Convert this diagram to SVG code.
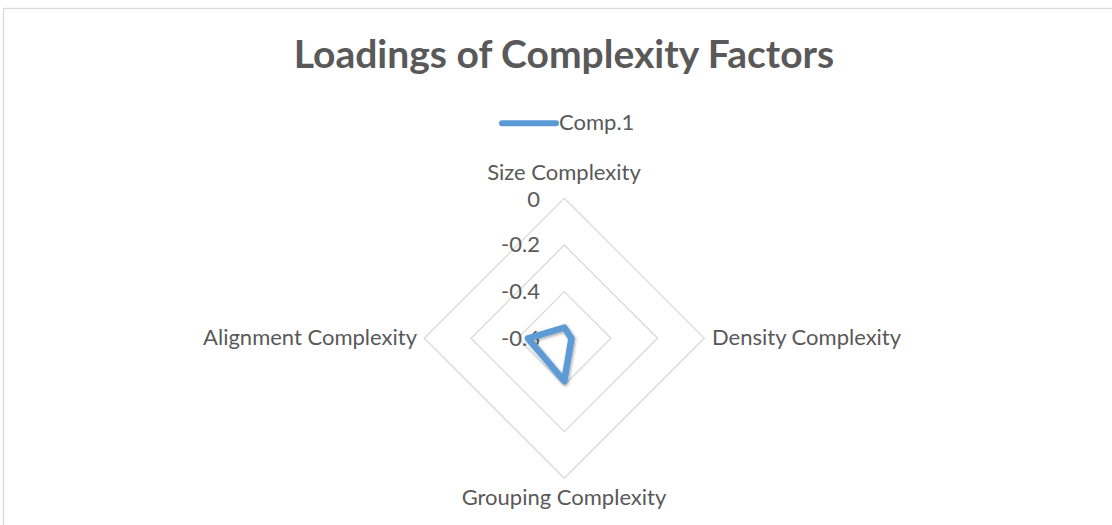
<svg xmlns="http://www.w3.org/2000/svg" width="1112" height="525" viewBox="0 0 1112 525">
<style>
.lbl{font-family:Lato,"Open Sans","Liberation Sans",sans-serif;font-size:22px;fill:#595959}
.grid{fill:none;stroke:#d9d9d9;stroke-width:1.3}
</style>
<defs>
<filter id="sh" x="-20%" y="-20%" width="140%" height="140%">
<feDropShadow dx="1" dy="1.5" stdDeviation="1.5" flood-color="#000" flood-opacity="0.35"/>
</filter>
</defs>
<rect x="0" y="0" width="1112" height="525" fill="#fff"/>
<rect x="3.5" y="8.5" width="1120" height="530" fill="#fff" stroke="#d9d9d9" stroke-width="1.3"/>
<text id="title" x="564" y="67.5" text-anchor="middle" style="font-family:Lato,'Open Sans','Liberation Sans',sans-serif;font-weight:bold;font-size:39px;fill:#595959">Loadings of Complexity Factors</text>
<g id="legend">
<line x1="502" y1="123.3" x2="556" y2="123.3" stroke="#5b9bd5" stroke-width="6" stroke-linecap="round"/>
<text class="lbl" x="559" y="130">Comp.1</text>
</g>
<g id="grid">
<polygon class="grid" points="564.3,198.3 704.3,338.3 564.3,478.3 424.3,338.3"/>
<polygon class="grid" points="564.3,245 657.6,338.3 564.3,431.6 471,338.3"/>
<polygon class="grid" points="564.3,291.6 611,338.3 564.3,385 517.6,338.3"/>
</g>
<g id="axis-labels">
<text class="lbl" x="540" y="207" text-anchor="end">0</text>
<text class="lbl" x="540" y="252" text-anchor="end">-0.2</text>
<text class="lbl" x="540" y="299" text-anchor="end">-0.4</text>
<text class="lbl" x="540" y="346" text-anchor="end">-0.6</text>
</g>
<g id="size"><text class="lbl" x="564" y="180" text-anchor="middle">Size Complexity</text></g>
<g id="density"><text class="lbl" x="712" y="345">Density Complexity</text></g>
<g id="grouping"><text class="lbl" x="564" y="505" text-anchor="middle">Grouping Complexity</text></g>
<g id="alignment"><text class="lbl" x="417" y="345" text-anchor="end">Alignment Complexity</text></g>
<g id="series">
<polygon points="564.3,327.5 571.5,338.3 564.3,381 528,338.3" fill="none" stroke="#5b9bd5" stroke-width="6.5" stroke-linejoin="round" filter="url(#sh)"/>
</g>
</svg>
